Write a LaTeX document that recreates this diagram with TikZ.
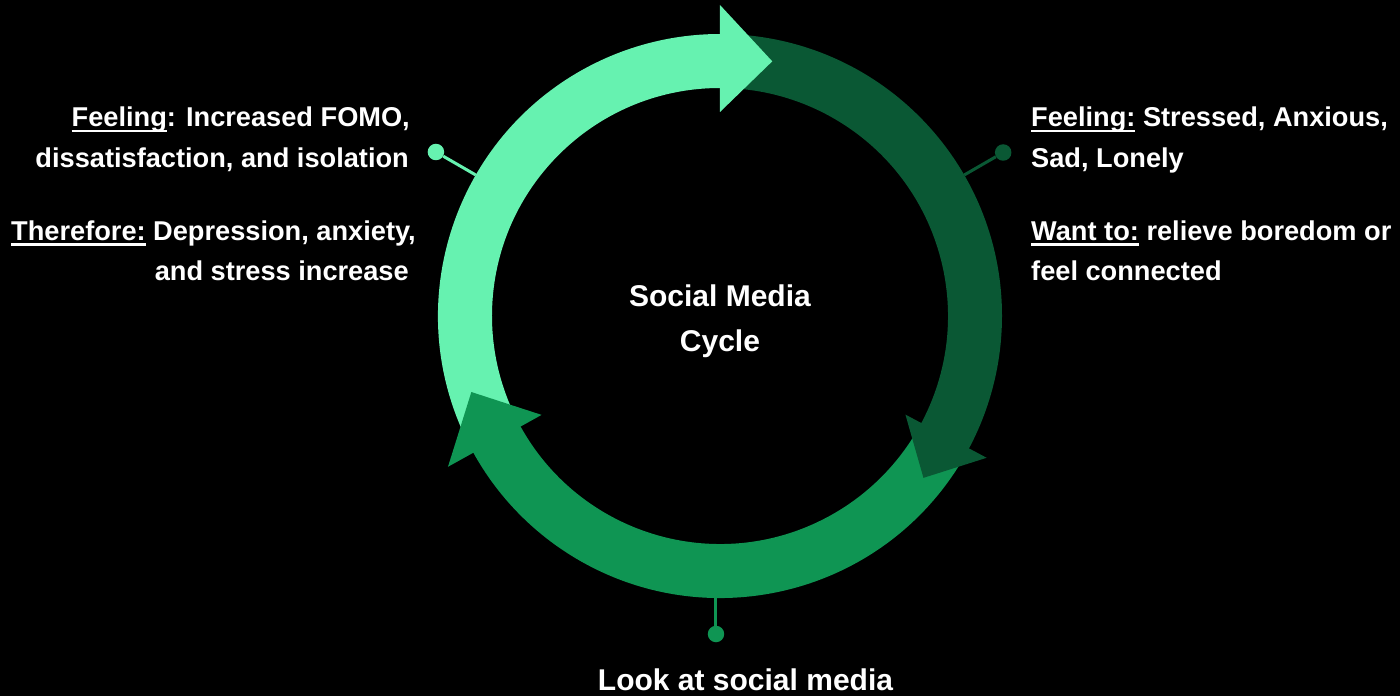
\documentclass[tikz,border=0pt]{standalone}
\usepackage{fontspec}
\setmainfont{Liberation Sans}

\definecolor{mintgreen}{HTML}{66F2B0}
\definecolor{forestgreen}{HTML}{0A5834}
\definecolor{leafgreen}{HTML}{0F9553}

% underline sitting just below the baseline
\newcommand\undl[1]{\setbox0\hbox{#1}\rlap{\rule[-5.5pt]{\wd0}{2.5pt}}\box0\relax}

\tikzset{
  txt/.style={text=white, inner sep=0pt, font=\fontsize{27.2}{40}\selectfont\bfseries},
  title/.style={text=white, inner sep=0pt, font=\fontsize{30}{44}\selectfont\bfseries},
  dot/.style={circle, fill=#1, minimum size=16.5pt, inner sep=0pt},
  link/.style={line width=3pt}
}

\begin{document}
\begin{tikzpicture}[x=1pt,y=1pt]
  \fill[black] (-720,-380) rectangle (680,316);
  \useasboundingbox (-720,-380) rectangle (680,316);

  % ring segments first, so every head lies on top of the next one
  \foreach \base/\from/\col in {90/206/mintgreen, -28/87/forestgreen, 209/329/leafgreen}
    \fill[\col] (\from:282) arc[start angle=\from, end angle=\base-1, radius=282]
      -- ({\base-1}:228) arc[start angle=\base-1, end angle=\from, radius=228] -- cycle;
  % heads: base angle / tip angle / inner / outer corner
  \foreach \base/\tip/\rin/\rout/\col in {90/78.4/204/311/mintgreen,
      -28/-38.5/210/302/forestgreen, 209/197/204/311/leafgreen}
    \fill[\col] (\base:\rout) -- (\tip:260) -- (\base:\rin) -- cycle;

  % pins
  \node[dot=mintgreen] (dotfomo) at (150:328) {};
  \coordinate (rimfomo) at (150:282);
  \draw[link, mintgreen] (dotfomo) -- (rimfomo);
  \node[dot=forestgreen] (dotfeel) at (30:327) {};
  \coordinate (rimfeel) at (30:282);
  \draw[link, forestgreen] (dotfeel) -- (rimfeel);
  \node[dot=leafgreen] (dotlook) at (-4,-318) {};
  \coordinate (rimlook) at (-4,-281);
  \draw[link, leafgreen] (dotlook) -- (rimlook);

  % left side
  \node[txt, anchor=base east] (fomoa) at (-310,189) {\undl{Feeling}: Increased FOMO,};
  \node[txt, anchor=base east] (fomob) at (-311,148) {dissatisfaction, and isolation};
  \node[txt, anchor=base east] (therea) at (-304,75.5) {\undl{Therefore:} Depression, anxiety,};
  \node[txt, anchor=base east] (thereb) at (-311,35) {and stress increase};

  % right side
  \node[txt, anchor=base west] (feela) at (311,189) {\undl{Feeling:} Stressed, Anxious,};
  \node[txt, anchor=base west] (feelb) at (311,148) {Sad, Lonely};
  \node[txt, anchor=base west] (wanta) at (311,75.5) {\undl{Want to:} relieve boredom or};
  \node[txt, anchor=base west] (wantb) at (311,35) {feel connected};

  \node[title, anchor=base] (cyclea) at (0,9) {Social Media};
  \node[title, anchor=base] (cycleb) at (0,-35) {Cycle};
  \node[title, anchor=base] (look) at (25.5,-374) {Look at social media};
\end{tikzpicture}
\end{document}
